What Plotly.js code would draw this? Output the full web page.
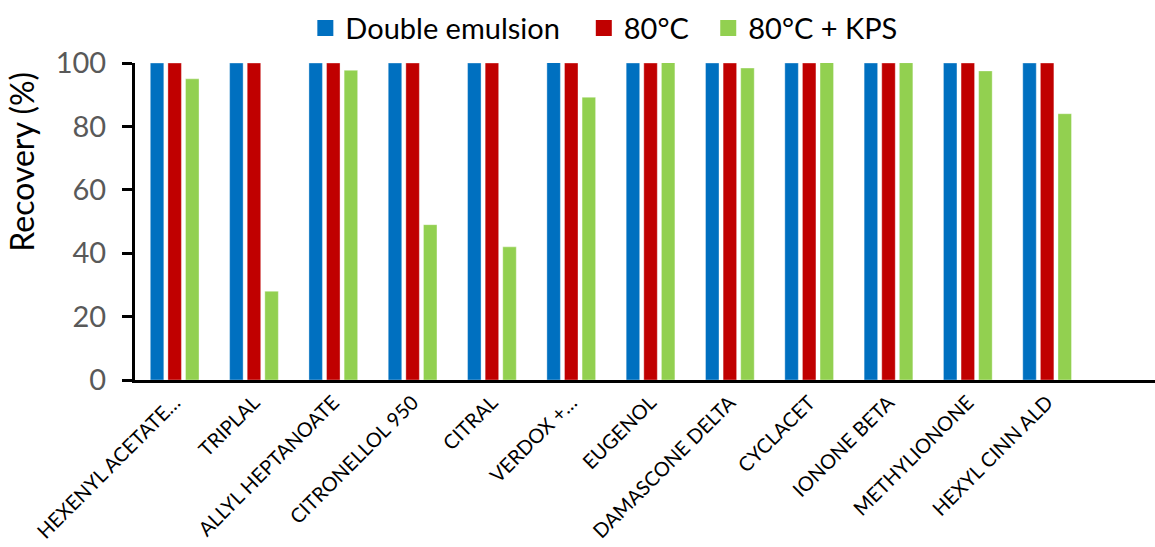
<!DOCTYPE html>
<html>
<head>
<meta charset="utf-8">
<script src="https://cdn.plot.ly/plotly-3.0.1.min.js"></script>
<style>html,body{margin:0;padding:0;background:#fff;}#chart{width:1155px;height:547px;}</style>
</head>
<body>
<div id="chart"></div>
<script>
var categories = ["HEXENYL ACETATE…", "TRIPLAL", "ALLYL HEPTANOATE", "CITRONELLOL 950", "CITRAL", "VERDOX +…", "EUGENOL", "DAMASCONE DELTA", "CYCLACET", "IONONE BETA", "METHYLIONONE", "HEXYL CINN ALD"];
var doubleEmulsion = [100, 100, 100, 100, 100, 100.3, 100, 100, 100, 100, 100, 100];
var heat80 = [100, 100, 100, 100, 100, 100, 100, 100, 100, 100, 100, 100];
var heat80KPS = [95, 28, 97.7, 49, 42, 89.2, 100.3, 98.4, 100.3, 100.1, 97.5, 84];
var seriesNames = ["Double emulsion", "80°C", "80°C + KPS"];
var seriesColors = ["#0070C0", "#C00000", "#92D050"];
var yTicks = [0, 20, 40, 60, 80, 100];

var FONT = "Lato, 'Open Sans', sans-serif";
var legendIds = ["legend", "legend2", "legend3"];
function bar(i, vals) {
  return {type: "bar", name: seriesNames[i], x: categories, y: vals, showlegend: false,
    marker: {color: seriesColors[i], line: {color: "rgba(255,255,255,0.6)", width: 0.6}},
    hoverinfo: "skip"};
}
function legendEntry(i) {
  return {type: "scatter", mode: "markers", name: seriesNames[i], x: [null], y: [null], legend: legendIds[i],
    marker: {symbol: "square", size: 17, color: seriesColors[i]}, showlegend: true, hoverinfo: "skip"};
}
var data = [
  bar(0, doubleEmulsion), bar(1, heat80), bar(2, heat80KPS),
  legendEntry(0), legendEntry(1), legendEntry(2)
];
function legendBox(xp) {
  return {orientation: "h", x: xp, xanchor: "left", y: 1.11, yanchor: "middle", bgcolor: "rgba(0,0,0,0)",
    font: {size: 29, family: FONT, color: "#000"}, itemwidth: 30, itemsizing: "trace"};
}
var layout = {
  width: 1155, height: 547,
  margin: {l: 135, r: 0, t: 63, b: 167, pad: 0},
  paper_bgcolor: "#fff", plot_bgcolor: "#fff",
  font: {family: FONT, color: "#000"},
  barmode: "group", bargap: 0.334, bargroupgap: 0.233,
  showlegend: true,
  legend: legendBox(0.167),
  legend2: legendBox(0.440),
  legend3: legendBox(0.562),
  xaxis: {type: "category", range: [-0.5, 12.36], showgrid: false, zeroline: false,
    showline: true, linecolor: "#000", linewidth: 3, ticks: "", tickangle: -45,
    tickfont: {size: 20, family: FONT, color: "#000"}, fixedrange: true},
  yaxis: {range: [0, 100], tickvals: yTicks, ticktext: yTicks.map(String), showgrid: false, zeroline: false,
    showline: true, linecolor: "#000", linewidth: 3, ticks: "outside", ticklen: 10, tickwidth: 3, tickcolor: "#000",
    ticklabelstandoff: 10,
    tickfont: {size: 29, family: FONT, color: "#595959"}, fixedrange: true},
  annotations: [{text: "Recovery (%)", textangle: -90, xref: "paper", yref: "paper",
    x: -0.111, y: 0.688, xanchor: "center", yanchor: "middle", showarrow: false,
    font: {size: 32, family: FONT, color: "#000"}}]
};
Plotly.newPlot("chart", data, layout, {staticPlot: true, displayModeBar: false});
</script>
</body>
</html>
